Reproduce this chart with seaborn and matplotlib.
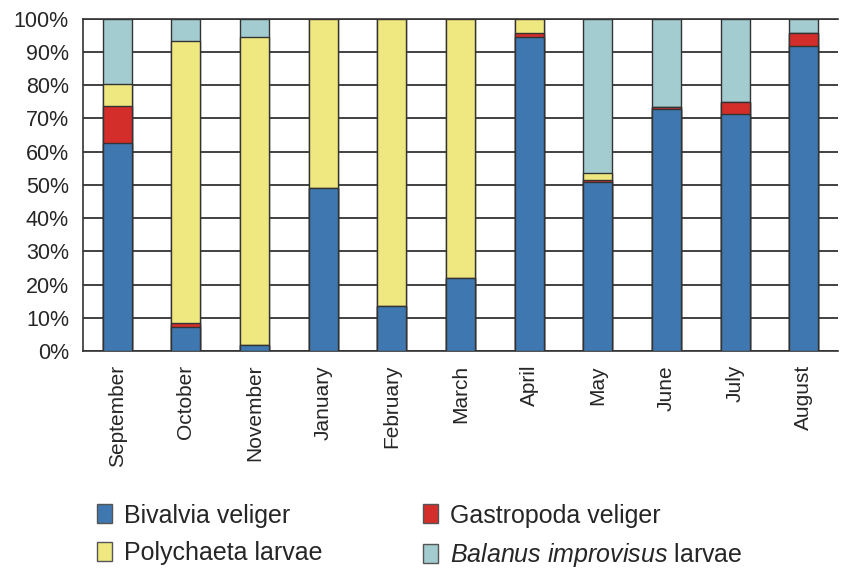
import numpy as np
import pandas as pd
import matplotlib
matplotlib.use("Agg")
import matplotlib.pyplot as plt
import seaborn as sns
from matplotlib.patches import Patch

months = ["September", "October", "November", "January", "February", "March",
          "April", "May", "June", "July", "August"]
bivalvia = [62.7, 7.1, 1.8, 49.0, 13.6, 21.9, 94.5, 50.8, 72.9, 71.3, 91.9]
gastropoda = [11.2, 1.2, 0.0, 0.0, 0.0, 0.0, 1.2, 0.6, 0.7, 3.7, 3.8]
polychaeta = [6.5, 85.1, 92.7, 51.0, 86.4, 78.1, 4.3, 2.2, 0.0, 0.0, 0.0]
balanus = [19.6, 6.6, 5.5, 0.0, 0.0, 0.0, 0.0, 46.4, 26.4, 25.0, 4.3]

names = ["Bivalvia veliger", "Gastropoda veliger", "Polychaeta larvae",
         r"$\it{Balanus\ improvisus}$ larvae"]
colors = ["#3f78b0", "#d42e2a", "#efe881", "#a2cccf"]

sns.set_style("white")
plt.rcParams["font.family"] = ["Liberation Sans", "DejaVu Sans"]
plt.rcParams["mathtext.fontset"] = "custom"
plt.rcParams["mathtext.rm"] = "Liberation Sans"
plt.rcParams["mathtext.it"] = "Liberation Sans:italic"

df = pd.DataFrame({"month": months, "b": bivalvia, "g": gastropoda,
                   "p": polychaeta, "s": balanus})
cum = df[["b", "g", "p", "s"]].cumsum(axis=1)

fig, ax = plt.subplots(figsize=(8.45, 5.69), dpi=100)
fig.subplots_adjust(left=0.098, right=0.992, top=0.967, bottom=0.383)

# draw cumulative totals from top down so they stack
for col, c in zip(["s", "p", "g", "b"], colors[::-1]):
    sns.barplot(x=df["month"], y=cum[col], color=c, width=0.42,
                edgecolor="#333333", linewidth=1.0, saturation=1, ax=ax, zorder=3)

ax.set_ylim(0, 100)
ax.set_xlim(-0.5, len(months) - 0.5)
ax.set_yticks(np.arange(0, 101, 10))
ax.set_yticklabels([f"{v}%" for v in range(0, 101, 10)], fontsize=15.5)
ax.set_xticks(np.arange(-0.5, len(months), 1), minor=True)
ax.set_xticklabels(months, rotation=90, fontsize=15)
ax.tick_params(axis="x", which="major", length=0, pad=10)
ax.tick_params(axis="x", which="minor", length=6, width=1, color="#333333", direction="out")
ax.tick_params(axis="y", length=7, width=1.2, color="#333333", direction="out", pad=3)
ax.set_xlabel("")
ax.set_ylabel("")
ax.yaxis.grid(True, color="#333333", linewidth=1.3, zorder=0)
ax.set_axisbelow(True)
for side in ["top", "left", "bottom"]:
    ax.spines[side].set_visible(True)
    ax.spines[side].set_color("#333333")
    ax.spines[side].set_linewidth(1.2)
ax.spines["right"].set_visible(False)

# legend fills by column, so order handles to read row-wise
order = [0, 2, 1, 3]
handles = [Patch(facecolor=colors[i], edgecolor="#555555", label=names[i]) for i in order]
fig.legend(handles=handles, loc="lower left", bbox_to_anchor=(0.088, -0.04), ncol=2,
           frameon=False, fontsize=18, handlelength=0.6, handleheight=0.8,
           handletextpad=0.5, columnspacing=4.0, labelspacing=0.55)

fig.savefig("out.png", dpi=100)
